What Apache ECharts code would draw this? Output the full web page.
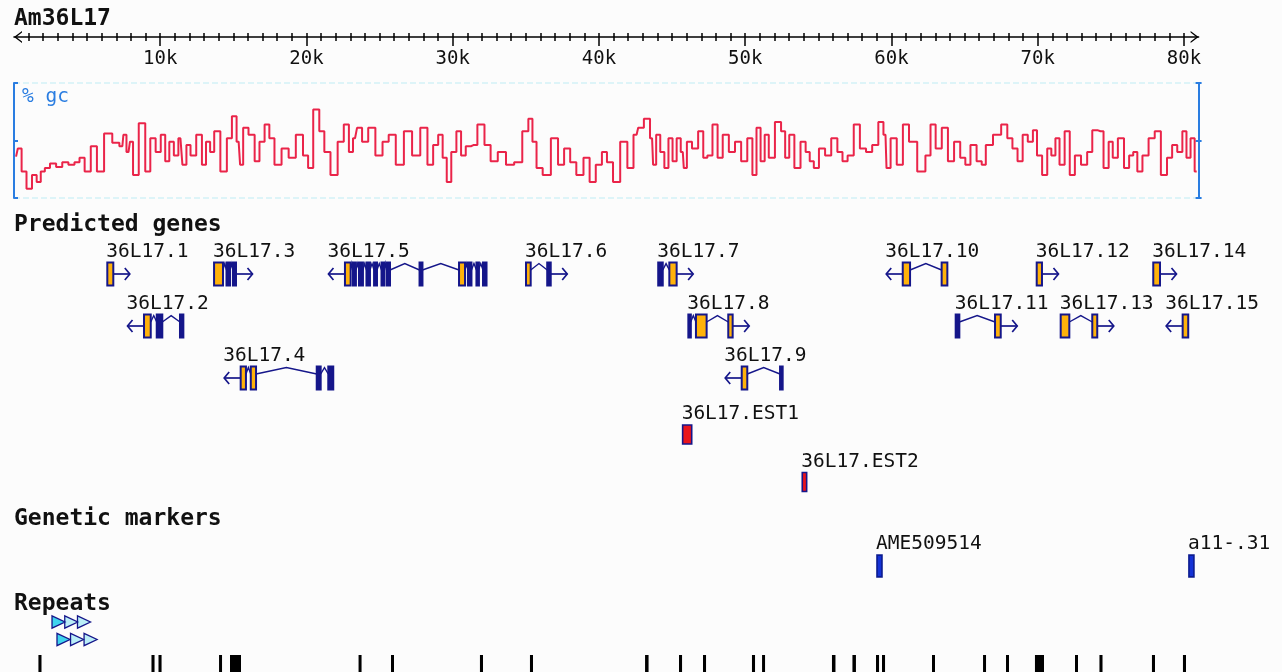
<!DOCTYPE html>
<html><head><meta charset="utf-8">
<script src="https://cdn.jsdelivr.net/npm/echarts@6/dist/echarts.min.js"></script>
<style>html,body{margin:0;padding:0;background:#fcfcfc}#c{width:1282px;height:672px}</style>
</head><body><div id="c"></div>
<script>
// ---------- data ----------
const seqName = 'Am36L17';
const seqLength = 81000;
const rulerMajor = [10000, 20000, 30000, 40000, 50000, 60000, 70000, 80000];

// GC content (% gc), positions in kb
const gcPos = [0.14,0.38,0.66,1.05,1.41,1.69,1.97,2.25,2.67,3.09,3.51,3.93,4.34,4.62,5.04,5.46,5.88,6.44,7.0,7.41,7.55,7.83,8.03,8.25,8.81,9.14,9.5,9.87,10.2,10.48,10.76,11.1,11.38,11.65,11.93,12.21,12.71,12.99,13.27,13.55,13.83,14.39,14.72,15.08,15.36,15.56,15.78,16.29,16.62,16.95,17.32,17.6,18.02,18.57,18.99,19.55,19.97,20.25,20.67,21.08,21.36,21.92,22.34,22.76,23.04,23.32,23.59,24.01,24.43,24.99,25.41,25.83,26.38,26.94,27.5,28.06,28.48,28.84,29.17,29.45,29.73,30.07,30.43,30.71,31.07,31.41,31.96,32.38,32.8,33.36,33.92,34.48,35.03,35.31,35.59,35.87,36.43,36.99,37.41,37.82,38.24,38.66,39.22,39.5,40.06,40.34,40.75,41.17,41.73,42.15,42.57,
42.79,43.35,43.63,43.77,44.05,44.33,44.61,44.89,45.17,45.45,45.73,45.87,46.15,46.57,46.99,47.27,47.55,47.97,48.25,48.67,49.09,49.51,49.93,50.35,50.63,50.91,51.19,51.47,51.75,52.31,52.59,52.87,53.15,53.57,53.99,54.27,54.55,54.83,55.25,55.67,56.09,56.51,56.79,57.21,57.63,58.05,58.47,58.89,59.31,59.59,59.73,60.15,60.57,60.99,61.41,62.11,62.53,62.81,63.23,63.65,64.07,64.49,64.91,65.19,65.61,66.03,66.31,66.59,67.29,67.71,68.13,68.41,68.83,69.11,69.53,69.81,70.09,70.51,70.79,71.07,71.35,71.63,72.05,72.33,72.75,73.17,73.59,73.87,74.29,74.71,74.99,75.27,75.69,76.11,76.39,76.67,76.95,77.37,77.79,78.21,78.63,79.05,79.33,79.75,80.03,80.31,80.59,80.87];
const gcVal = [36,43,23,8,20,14,23,26,30,27,31,29,31,35,23,45,23,56,48,45,55,40,49,20,65,23,52,40,55,32,49,37,52,29,46,37,55,29,49,40,58,23,52,71,49,29,61,55,32,49,64,52,29,43,35,55,37,26,77,58,40,20,49,64,40,52,61,49,61,37,49,55,29,58,37,61,29,46,55,35,14,40,58,37,45,46,64,46,32,40,29,31,58,69,49,26,20,52,29,43,31,20,35,14,29,40,31,14,49,26,55,
61,69,52,29,55,40,26,52,32,52,40,26,49,43,58,35,37,64,35,55,40,49,32,52,20,61,32,55,35,66,58,35,55,26,49,40,32,26,43,37,52,40,32,37,64,43,40,46,66,55,26,52,29,64,49,23,37,64,43,61,32,49,35,29,46,32,29,46,55,64,52,43,32,55,49,59,37,20,43,37,52,29,58,20,37,29,40,59,58,26,49,35,52,26,37,40,23,37,52,58,20,35,46,40,58,35,52,23];

// Predicted genes: exons as [start, end, kind] (c = coding, u = non-coding)
const geneNames   = ['36L17.1','36L17.2','36L17.3','36L17.4','36L17.5','36L17.6','36L17.7','36L17.8','36L17.9','36L17.10','36L17.11','36L17.12','36L17.13','36L17.14','36L17.15'];
const geneLanes   = [0,1,0,2,0,0,0,1,2,0,1,0,1,0,1];
const geneStrands = [1,-1,1,-1,-1,1,1,1,-1,-1,1,1,1,1,-1];
const geneExons = [
  [[6380,6790,'c']],
  [[8890,9350,'c'],[9760,10140,'u'],[11350,11580,'u']],
  [[13680,14290,'c'],[14530,14770,'u'],[14970,15180,'u']],
  [[15500,15860,'c'],[16190,16550,'c'],[20700,20970,'u'],[21490,21830,'u']],
  [[22630,23020,'c'],[23180,23380,'u'],[23590,23860,'u'],[24100,24340,'u'],[24620,24820,'u'],[25130,25300,'u'],[25470,25710,'u'],[27730,27930,'u'],[30430,30840,'c'],[31040,31280,'u'],[31620,31760,'u'],[32070,32310,'u']],
  [[35010,35330,'c'],[36460,36700,'u']],
  [[44050,44360,'u'],[44810,45310,'c']],
  [[46110,46270,'u'],[46630,47360,'c'],[48840,49140,'c']],
  [[49760,50140,'c'],[52380,52560,'u']],
  [[60770,61270,'c'],[63430,63820,'c']],
  [[64390,64640,'u'],[67080,67470,'c']],
  [[69930,70290,'c']],
  [[71570,72160,'c'],[73730,74070,'c']],
  [[77900,78360,'c']],
  [[79910,80290,'c']]
];

// ESTs
const estNames = ['36L17.EST1','36L17.EST2'];
const estStart = [45720, 53900];
const estEnd   = [46340, 54200];

// Genetic markers
const markerNames = ['AME509514','a11-.31'];
const markerStart = [59010, 80340];
const markerEnd   = [59350, 80680];

// Repeats: tandem repeat arrows and repeat blocks
const tandemStart = [2600, 2940];
const tandemEnd   = [5230, 5680];
const tandemLane  = [0, 1];
const repeatStart = [1670,9400,9880,14020,14770,23560,25780,31860,35280,43150,45470,47110,50460,51150,55930,57330,58940,59350,62770,66260,67830,69810,72550,74220,77810,79930];
const repeatEnd   = [1880,9610,10090,14220,15520,23760,25980,32070,35490,43390,45680,47320,50670,51350,56170,57570,59150,59560,62970,66460,68030,70430,72750,74430,78020,80140];

// ---------- styling ----------
const NAVY = '#15168a', ORANGE = '#ffb20a', GCRED = '#ea2449', GCBLUE = '#2a7de1';
const MONO = '"DejaVu Sans Mono", "Liberation Mono", monospace';
const LEFT = 14, WIDTH = 1184.6;

const rulerMinor = [];
for (let v = 1000; v <= 80000; v += 1000) rulerMinor.push(v);

function hiddenX(gi) {
  return {type:'value', gridIndex:gi, min:0, max:seqLength, show:false, splitLine:{show:false}};
}
function laneY(gi, n) {
  return {type:'value', gridIndex:gi, min:-0.5, max:n-0.5, inverse:true, show:false, splitLine:{show:false}};
}
function label(text, x, y) {
  return {type:'text', style:{text, x, y, fill:'#111', font:'19.5px ' + MONO, textAlign:'left', textVerticalAlign:'bottom', verticalAlign:'bottom'}};
}

function renderGene(params, api) {
  const i = params.dataIndex;
  const lane = api.value(2);
  const yc = api.coord([0, lane])[1];
  const h = api.size([0, 1])[1] * 0.44;
  const top = yc - h / 2;
  const ex = geneExons[i];
  const px = ex.map(e => [api.coord([e[0], lane])[0], api.coord([e[1], lane])[0]]);
  const ch = [];
  for (let k = 0; k < ex.length - 1; k++) {
    const a = px[k][1], b = px[k + 1][0];
    ch.push({type:'polyline', shape:{points:[[a, yc - 4], [(a + b) / 2, top + 1], [b, yc - 4]]}, style:{stroke:NAVY, lineWidth:1.4, fill:null}});
  }
  const ARW = 16.5;
  const plus = geneStrands[i] > 0;
  const base = plus ? px[px.length - 1][1] : px[0][0];
  const tip = plus ? base + ARW : base - ARW;
  const d = plus ? -5 : 5;
  ch.push({type:'polyline', shape:{points:[[base, yc], [tip, yc]]}, style:{stroke:NAVY, lineWidth:1.7}});
  ch.push({type:'polyline', shape:{points:[[tip + d, yc - 6], [tip, yc], [tip + d, yc + 6]]}, style:{stroke:NAVY, lineWidth:1.7, fill:null}});
  ex.forEach((e, k) => {
    const x0 = px[k][0], w = Math.max(px[k][1] - x0, 2.5);
    ch.push({type:'rect', shape:{x:x0, y:top, width:w, height:h}, style:{fill:e[2] === 'c' ? ORANGE : NAVY, stroke:NAVY, lineWidth:2}});
  });
  ch.push(label(geneNames[i], (plus ? px[0][0] : tip) - 1, top - 1));
  return {type:'group', children:ch};
}

function renderBox(names, fill, stroke, frac) {
  return function (params, api) {
    const i = params.dataIndex;
    const lane = api.value(2);
    const yc = api.coord([0, lane])[1];
    const h = api.size([0, 1])[1] * frac;
    const x0 = api.coord([api.value(0), lane])[0];
    const x1 = api.coord([api.value(1), lane])[0];
    return {type:'group', children:[
      {type:'rect', shape:{x:x0, y:yc - h / 2, width:Math.max(x1 - x0, 3), height:h}, style:{fill, stroke, lineWidth:1.6}},
      label(names[i], x0 - 1, yc - h / 2 - 1)
    ]};
  };
}

function renderTandem(params, api) {
  const lane = api.value(2);
  const yc = api.coord([0, lane])[1];
  const h = api.size([0, 1])[1] * 0.7;
  const x0 = api.coord([api.value(0), lane])[0];
  const x1 = api.coord([api.value(1), lane])[0];
  const tw = 13, n = 3, step = (x1 - x0 - tw) / (n - 1);
  const ch = [];
  for (let k = 0; k < n; k++) {
    const a = x0 + k * step;
    ch.push({type:'polygon', shape:{points:[[a, yc - h / 2], [a + tw, yc], [a, yc + h / 2]]},
      style:{fill: k === 0 ? '#3fd4ee' : 'rgba(63,212,238,0.35)', stroke:NAVY, lineWidth:1.3}});
  }
  return {type:'group', children:ch};
}

function renderBar(params, api) {
  const lane = api.value(2);
  const yc = api.coord([0, lane])[1];
  const h = api.size([0, 1])[1];
  const x0 = api.coord([api.value(0), lane])[0];
  const x1 = api.coord([api.value(1), lane])[0];
  return {type:'rect', shape:{x:x0, y:yc - h / 2, width:Math.max(x1 - x0, 3), height:h}, style:{fill:'#000'}};
}

const arrowPath = 'path://M0,8 L6,0 L12,8 L10.4,8 L6,2.3 L1.6,8 Z';

const option = {
  backgroundColor:'#fcfcfc',
  animation:false,
  grid:[
    {left:LEFT, width:WIDTH, top:17, height:20},      // ruler
    {left:LEFT, width:WIDTH, top:83, height:115},     // gc
    {left:LEFT, width:WIDTH, top:248, height:156},    // genes
    {left:LEFT, width:WIDTH, top:410.75, height:95},  // ESTs
    {left:LEFT, width:WIDTH, top:540, height:52},     // markers
    {left:LEFT, width:WIDTH, top:613.25, height:35},  // tandem repeats
    {left:LEFT, width:WIDTH, top:655, height:22}      // repeat blocks
  ],
  xAxis:[
    {type:'value', gridIndex:0, min:0, max:seqLength, position:'bottom',
      axisLine:{show:true, lineStyle:{color:'#000', width:1.6}, symbol:[arrowPath, arrowPath], symbolSize:[12, 8], symbolOffset:[4, -4]},
      axisTick:{show:true, customValues:rulerMajor, length:9, lineStyle:{color:'#000', width:1.5}},
      axisLabel:{show:true, customValues:rulerMajor, formatter:v => (v / 1000) + 'k', color:'#111', fontFamily:MONO, fontSize:19, margin:13},
      splitLine:{show:false}},
    {type:'value', gridIndex:0, min:0, max:seqLength, position:'bottom',
      axisLine:{show:false}, axisLabel:{show:false}, splitLine:{show:false},
      axisTick:{show:true, customValues:rulerMinor, length:4, lineStyle:{color:'#000', width:1.5}}},
    {type:'value', gridIndex:0, min:0, max:seqLength, position:'bottom',
      axisLine:{show:false}, axisLabel:{show:false}, splitLine:{show:false},
      axisTick:{show:true, inside:true, customValues:rulerMinor, length:4, lineStyle:{color:'#000', width:1.5}}},
    hiddenX(1), hiddenX(2), hiddenX(3), hiddenX(4), hiddenX(5), hiddenX(6)
  ],
  yAxis:[
    {type:'value', gridIndex:0, show:false, splitLine:{show:false}},
    {type:'value', gridIndex:1, min:0, max:100, interval:50, position:'left',
      axisLine:{show:true, lineStyle:{color:GCBLUE, width:2}},
      axisTick:{show:true, inside:true, length:4, lineStyle:{color:GCBLUE, width:2}},
      axisLabel:{show:false},
      splitLine:{show:true, lineStyle:{color:['#d2f1f6', 'rgba(0,0,0,0)'], type:'dashed', width:1.5}}},
    {type:'value', gridIndex:1, min:0, max:100, interval:50, position:'right',
      axisLine:{show:true, lineStyle:{color:GCBLUE, width:2}},
      axisTick:{show:true, length:3, lineStyle:{color:GCBLUE, width:2}},
      axisLabel:{show:false}, splitLine:{show:false}},
    {type:'value', gridIndex:1, min:0, max:100, interval:50, position:'right',
      axisLine:{show:false}, axisLabel:{show:false}, splitLine:{show:false},
      axisTick:{show:true, inside:true, length:3, lineStyle:{color:GCBLUE, width:2}}},
    laneY(2, 3), laneY(3, 2), laneY(4, 1), laneY(5, 2), laneY(6, 1)
  ],
  graphic:[
    {type:'text', style:{text:seqName, x:14, y:19, font:'bold 23px ' + MONO, fill:'#111', textVerticalAlign:'middle', verticalAlign:'middle'}},
    {type:'text', style:{text:'% gc', x:22, y:97, font:'19.5px ' + MONO, fill:GCBLUE, textVerticalAlign:'middle', verticalAlign:'middle'}},
    {type:'text', style:{text:'Predicted genes', x:14, y:225, font:'bold 23px ' + MONO, fill:'#111', textVerticalAlign:'middle', verticalAlign:'middle'}},
    {type:'text', style:{text:'Genetic markers', x:14, y:519, font:'bold 23px ' + MONO, fill:'#111', textVerticalAlign:'middle', verticalAlign:'middle'}},
    {type:'text', style:{text:'Repeats', x:14, y:604, font:'bold 23px ' + MONO, fill:'#111', textVerticalAlign:'middle', verticalAlign:'middle'}}
  ],
  series:[
    {type:'line', xAxisIndex:3, yAxisIndex:1, step:'middle', symbol:'none',
      lineStyle:{color:GCRED, width:2}, data:gcPos.map((p, i) => [p * 1000, gcVal[i]])},
    {type:'custom', xAxisIndex:4, yAxisIndex:4, renderItem:renderGene, clip:false,
      data:geneNames.map((n, i) => [geneExons[i][0][0], geneExons[i][geneExons[i].length - 1][1], geneLanes[i]])},
    {type:'custom', xAxisIndex:5, yAxisIndex:5, clip:false, renderItem:renderBox(estNames, '#e8141c', NAVY, 0.4),
      data:estNames.map((n, i) => [estStart[i], estEnd[i], i])},
    {type:'custom', xAxisIndex:6, yAxisIndex:6, clip:false, renderItem:renderBox(markerNames, '#1432d6', '#0c1c90', 0.42),
      data:markerNames.map((n, i) => [markerStart[i], markerEnd[i], 0])},
    {type:'custom', xAxisIndex:7, yAxisIndex:7, clip:false, renderItem:renderTandem,
      data:tandemStart.map((s, i) => [s, tandemEnd[i], tandemLane[i]])},
    {type:'custom', xAxisIndex:8, yAxisIndex:8, clip:false, renderItem:renderBar,
      data:repeatStart.map((s, i) => [s, repeatEnd[i], 0])}
  ]
};
echarts.init(document.getElementById('c')).setOption(option);
</script>
</body></html>
